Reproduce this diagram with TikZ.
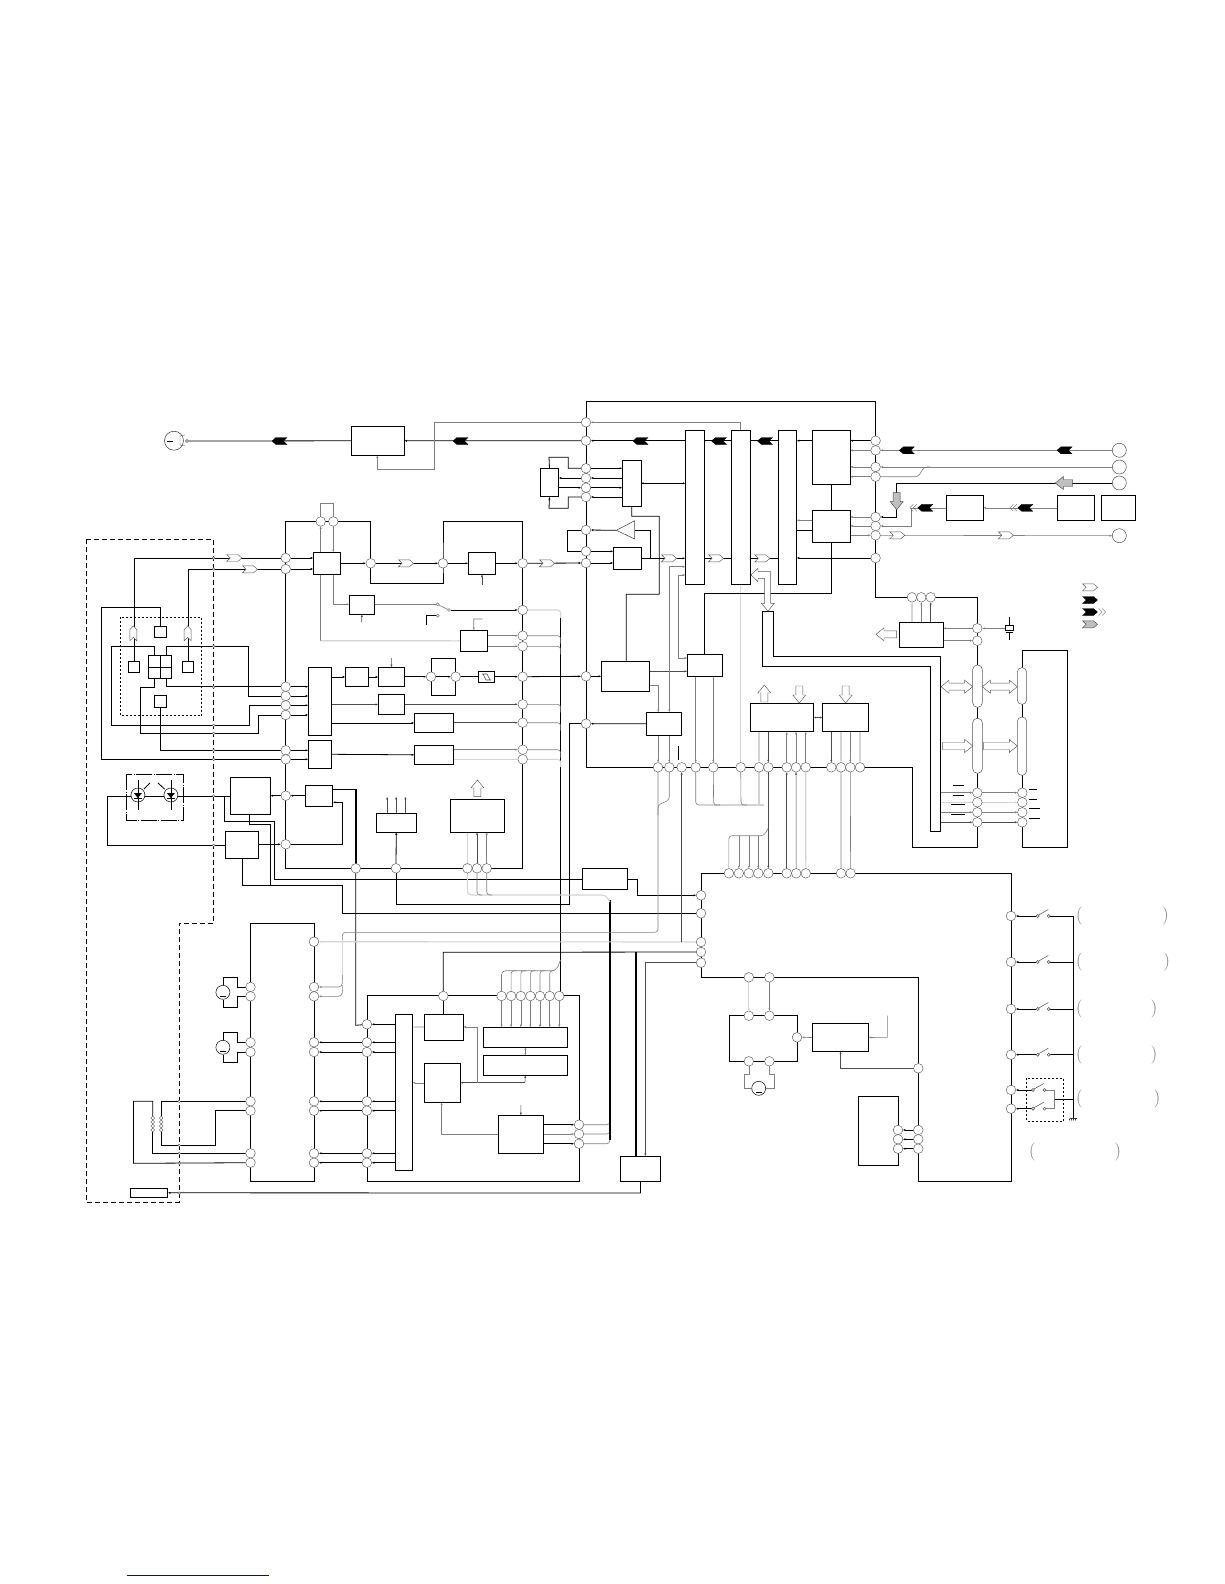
\documentclass[tikz,border=0pt]{standalone}
\usetikzlibrary{arrows.meta}
\pgfdeclarelayer{bg}\pgfsetlayers{bg,main}
\definecolor{gr}{gray}{0.5}\definecolor{lg}{gray}{0.83}\definecolor{lnk}{rgb}{0.05,0.05,0.5}
\tikzset{
 box/.style={draw=black,fill=white,line width=.8pt,inner sep=0pt,outer sep=0pt},
 pad/.style={circle,draw=black!65,fill=white,line width=.45pt,minimum size=9.6pt,inner sep=0pt,outer sep=0pt},
 big/.style={circle,draw=black!70,fill=white,line width=.5pt,minimum size=14pt,inner sep=0pt,outer sep=0pt},
 w/.style={draw=black,line width=.8pt},
 tw/.style={draw=black!70,line width=.55pt},
 g/.style={draw=gr,line width=.6pt},
 l/.style={draw=lg,line width=1.1pt},
 th/.style={draw=black,line width=1.6pt},
 ar/.style={-{Latex[length=2.6pt,width=2.2pt]}},
 ra/.style={{Latex[length=2.6pt,width=2.2pt]}-},
 dar/.style={{Latex[length=2.2pt,width=2pt]}-{Latex[length=2.2pt,width=2pt]}},
 ol/.style={draw=black!65,fill=white,line width=.45pt},
 bk/.style={draw=black,fill=black,line width=.3pt},
 ht/.style={draw=black!70,fill=black!25,line width=.45pt},
 par/.style={text=black!55,font=\fontsize{18}{18}\selectfont,inner sep=0pt},
}
\newcommand\pad[3]{\node[pad] (#1) at (#2,#3) {};}
\newcommand\bx[6][]{\pgfmathsetmacro\bw{#5-#3}\pgfmathsetmacro\bh{#6-#4}\node[box,minimum width=\bw pt,minimum height=\bh pt,#1] (#2) at ({(#3+#5)/2},{(#4+#6)/2}) {};}
\newcommand\chv[4][ol]{\draw[#1,shift={(#2,#3)},rotate=#4] (-7.5,-3.5)--(3.5,-3.5)--(7.5,0)--(3.5,3.5)--(-7.5,3.5)--(-4,0)--cycle;}
\newcommand\chvd[3]{\chv[bk]{#1}{#2}{#3}\begin{scope}[shift={(#1,#2)},rotate=#3]\draw[draw=black!60,line width=.35pt] (8.5,-3.5)--(12,0)--(8.5,3.5) (12,-3.5)--(15.5,0)--(12,3.5);\end{scope}}
\newcommand\blk[5][ol]{\draw[#1,shift={(#2,#3)},rotate=#5] (0,-3.5)--(#4-8,-3.5)--(#4-8,-6.5)--(#4,0)--(#4-8,6.5)--(#4-8,3.5)--(0,3.5)--cycle;}
\newcommand\dbl[3]{\draw[ol] (#1,#3)--(#1+8,#3-6.5)--(#1+8,#3-3.5)--(#2-8,#3-3.5)--(#2-8,#3-6.5)--(#2,#3)--(#2-8,#3+6.5)--(#2-8,#3+3.5)--(#1+8,#3+3.5)--(#1+8,#3+6.5)--cycle;}
\newcommand\swt[3]{\draw[black!70,line width=.5pt,fill=white] (#1,#3) circle (1.5pt) (#2,#3) circle (1.5pt);\draw[black!70,line width=.5pt] (#1+1,#3-1)--(#2-.5,#3-6.5);}
\newcommand\led[2]{\draw[line width=.5pt,fill=white] (#1,#2) circle (7pt);\draw[line width=.7pt] (#1,#2-15)--(#1,#2+15);\fill (#1-4,#2-2)--(#1+4,#2-2)--(#1,#2+3)--cycle;\draw[line width=.8pt] (#1-4,#2+3)--(#1+4,#2+3);}
\newcommand\mot[3]{\node[circle,draw=black,fill=white,line width=.5pt,minimum size=14pt,inner sep=0pt] (#1) at (#2,#3) {};\draw[line width=.9pt] (#2-2.8,#3+4)--(#2+2.8,#3+4);}
\begin{document}
\begin{tikzpicture}[x=1pt,y=-1pt]
\useasboundingbox (0,0) rectangle (1224,1584);
% ---------- boxes
\bx{BA}{351.3}{426.3}{404.3}{455.3}\bx{BB}{313.3}{552.3}{340.3}{574.3}\bx{BC}{468.3}{552.3}{495.7}{574.3}
\bx{BD}{349.3}{595.3}{374.3}{614.3}\bx{BE}{460.3}{630.3}{487.3}{651.3}\bx{BF}{308.3}{667.3}{331.3}{735.3}
\bx{BG}{308.3}{740.3}{331.3}{768.3}\bx{BH}{345.3}{667.3}{368.7}{686.7}\bx{BI}{378.3}{667.3}{404.7}{686.7}
\bx{BJ}{378.3}{694.3}{404.7}{714.7}\bx{BK}{414.3}{713.3}{453.7}{732.7}\bx{BL}{414.3}{745.3}{453.7}{764.3}
\bx{BM}{478.3}{671.3}{494.7}{682.3}\bx{BN}{230.5}{777.3}{270.4}{814.3}\bx{BO}{305.2}{785.3}{332.8}{806.3}
\bx{BP}{225.3}{831.3}{258.4}{858.3}\bx{BQ}{376.1}{813.3}{416.4}{832.3}\bx{BR}{450.2}{799.3}{504.3}{832.3}
\bx{BS}{582.3}{868.3}{627.5}{889.3}\bx{BT}{395.4}{1014.3}{412.6}{1170.3}\bx{BU}{424.4}{1014.3}{463.3}{1040.3}
\bx{BV}{424.4}{1063.3}{460.5}{1102.3}\bx{BW}{483.2}{1027.3}{567.6}{1047.3}\bx{BX}{483.2}{1055.3}{567.6}{1075.3}
\bx{BY}{498.4}{1115.3}{543.2}{1153.3}\bx{BZ}{620.6}{1156.3}{660.8}{1181.3}\bx{CA}{130.3}{1188.3}{167.8}{1197.3}
\bx{CB}{540.3}{468.3}{558.7}{496.7}\bx{CC}{622.3}{460.3}{641.3}{506.3}\bx{CD}{613.3}{547.3}{641.3}{569.3}
\bx{CE}{601.3}{661.3}{649.3}{691.3}\bx{CF}{687.3}{654.3}{722.3}{676.3}\bx{CG}{646.3}{712.3}{681.3}{735.3}
\bx{CH}{685.3}{430.3}{704.3}{584.3}\bx{CI}{731.3}{430.3}{750.3}{584.3}\bx{CJ}{778.3}{430.3}{796.7}{584.3}
\bx{CK}{812.3}{430.3}{850.3}{484.3}\bx{CL}{812.3}{510.3}{850.3}{542.3}\bx{CM}{750.3}{703.3}{813.7}{731.7}
\bx{CN}{822.3}{703.3}{868.7}{731.7}\bx{CO}{899.3}{622.3}{943.3}{647.3}\bx{DA}{946.3}{495.3}{983.3}{520.3}
\bx{DB}{1057.3}{495.3}{1094.3}{520.3}\bx{DC}{1101.3}{495.3}{1135.7}{520.3}\bx{DD}{812.3}{1023.7}{868.6}{1051.3}
\bx{DE}{858.6}{1096.3}{898.4}{1165.3}
\bx{ot}{154.3}{626.3}{166.7}{637.7}\bx{ol}{128.3}{661.3}{139.7}{672.7}\bx{or}{182.3}{661.3}{193.7}{672.7}
\bx{ob}{154.3}{695.3}{166.7}{707.7}\bx{oq}{148.3}{655.3}{171.7}{678.7}
\draw[w] (oq.north)--(oq.south) (oq.west)--(oq.east);
\draw[line width=.6pt,black!70] (483,674)--(486,680) (487,674)--(490,680) (482,674)--(487,674) (486,680)--(491,680);
\bx[draw=black!65,line width=.5pt,rounded corners=4.5pt]{ca}{972.7}{665}{982.3}{707.3}
\bx[draw=black!65,line width=.5pt,rounded corners=4.5pt]{cb}{972.7}{718.3}{982.3}{773.3}
\bx[draw=black!65,line width=.5pt,rounded corners=4.5pt]{cc}{1017.3}{667.7}{1026.7}{704.3}
\bx[draw=black!65,line width=.5pt,rounded corners=4.5pt]{cd}{1017.3}{717}{1026.7}{775.3}
% ---------- pads
\foreach \n/\y in {1/558,2/569,3/686.7,4/696,5/705.3,6/715,7/750.3,8/759.3,9/795.7,10/844.3}{\pad{a\n}{285.7}{\y}}
\foreach \n/\y in {1/563.3,2/610,3/635.7,4/646.3,5/676.7,6/704.3,7/722.7,8/749.7,9/759.3}{\pad{b\n}{522.7}{\y}}
\foreach \n/\y in {1/422.3,2/440.7,3/468.3,4/478,5/487.7,6/497,7/530,8/551.3,9/563,10/676.3,11/723.7}{\pad{c\n}{586}{\y}}
\foreach \n/\y in {1/440.7,2/450.3,3/467,4/476.7,5/517,6/526,7/535.3,8/558}{\pad{d\n}{875.6}{\y}}
\foreach \n/\x in {1/658,2/669.3,3/681.7,4/695.7,5/713.3,6/740.7,7/759,8/768.3,9/786.7,10/796,11/805.7,12/831.3,13/841,14/850.3,15/860}{\pad{e\n}{\x}{767.3}}
\foreach \n/\x in {1/728.9,2/738.8,3/748.8,4/758.3,5/768.3,6/786.7,7/796.2,8/805.8,9/841,10/850.6}{\pad{f\n}{\x}{873.3}}
\foreach \n/\y in {1/895.3,2/913.3,3/942,4/952,5/962.7}{\pad{gg\n}{701}{\y}}
\foreach \n/\x in {1/355.8,2/396,3/467.4,4/477,5/486.7}{\pad{h\n}{\x}{868.3}}
\foreach \n/\x in {0/443.3,1/501.5,2/511.1,3/520.8,4/530.4,5/540,6/549.7,7/559.3}{\pad{j\n}{\x}{996}}
\foreach \n/\y in {1/1024.3,2/1042.3,3/1052,4/1101.3,5/1110.7,6/1153.3,7/1162.7}{\pad{k\n}{366.9}{\y}}
\foreach \n/\y in {0/941.7,1/987,2/996.3,3/1042.3,4/1052,5/1101.3,6/1110.7,7/1153.3,8/1162.7}{\pad{m\n}{314}{\y}}
\foreach \n/\y in {1/987,2/996.3,3/1042.3,4/1052,5/1101.3,6/1110.7,7/1153.3,8/1162.7}{\pad{q\n}{250.5}{\y}}
\foreach \n/\y in {1/1124.7,2/1134,3/1143.7}{\pad{n\n}{579}{\y}}
\foreach \n/\y in {1/916,2/962,3/1009,4/1054.7,5/1090,6/1108.7}{\pad{r\n}{1011}{\y}}
\foreach \n/\y in {1/628.3,2/640.7,3/792.7,4/802.3,5/812.3,6/822.3}{\pad{s\n}{977.3}{\y}}
\foreach \n/\y in {3/792.7,4/802.3,5/812.3,6/822.3}{\pad{t\n}{1022.3}{\y}}
\foreach \n/\x in {1/912,2/921.3,3/930.7}{\pad{u\n}{\x}{597.3}}
\pad{v1}{320.7}{521.5}\pad{v2}{333.3}{521.5}\pad{w1}{370.7}{563.3}\pad{w2}{443}{563.3}\pad{x1}{431}{676.7}\pad{x2}{455.7}{676.7}
\pad{y1}{748.8}{977.3}\pad{y2}{769.4}{977.3}\pad{y3}{748.8}{1015.7}\pad{y4}{769.4}{1015.7}\pad{y5}{748.8}{1061.3}\pad{y6}{769.4}{1061.3}\pad{y7}{797}{1037.3}
\pad{z0}{918.3}{1068.3}
\foreach \n/\y in {1/1130,2/1139.3,3/1148.7}{\pad{p\n}{898}{\y}\pad{o\n}{918.3}{\y}}
\node[big] (B1) at (1119.3,450.3) {};\node[big] (B2) at (1119.3,467) {};\node[big] (B3) at (1119.3,483) {};\node[big] (B4) at (1119.3,535.7) {};
\node[circle,draw=black!70,fill=white,line width=.4pt,minimum size=3pt,inner sep=0pt] (eyep) at (187,441) {};
\mot{M1}{222.9}{992.3}\mot{M2}{222.9}{1047.3}\mot{M3}{758.7}{1088.3}
% ---------- connectors (behind)
\begin{pgfonlayer}{bg}
\fill[white] (0,0) rectangle (1224,1584);
% rails
\draw[w] (a10.center)--(285.7,521.5)--(370.7,521.5)--(w1.center)--(370.7,583.3)--(443,583.3)--(w2.center)--(443,521.5)--(522.7,521.5)--(b9.center)--(522.7,868.3)--(a10 |- h1)--(a10.center);
\draw[w] (c11.center)--(586,401.3)--(875.6,401.3)--(875.6,597.3)--(977.3,597.3)--(977.3,847.3)--(912.2,847.3)--(912.2,767.3)--(586,767.3)--(c11.center);
\draw[w] (1022.3,650.3)--(1067.3,650.3)--(1067.3,847.3)--(1022.3,847.3)--cycle;
\draw[w] (701.3,977.3)--(701.3,873.3)--(1011.3,873.3)--(1011.3,1181)--(918.3,1181)--(918.3,977.3)--cycle;
\draw[w] (367.2,995.5)--(579.3,995.5)--(579.3,1181.3)--(367.2,1181.3)--cycle;
\draw[w] (250.5,923.3)--(314.2,923.3)--(314.2,1181.3)--(250.5,1181.3)--cycle;
\draw[w] (729.3,1015.7) rectangle (797.4,1061.3);
% top line
\draw[w] (eyep)--(BA.west);\draw[w,ra] (BA.east)--(c2);\draw[w,ra] (c2)--(CH.west |- c2);
\draw[w] (CH.east |- c2)--(CI.west |- c2) (CI.east |- c2)--(CJ.west |- c2);\draw[w,ra] (CJ.east |- c2)--(CK.west |- c2);\draw[w,ra] (CK.east |- c2)--(d1);
\draw[g] (c1)--(434.3,422.3)--(434.3,469.3)--(377.3,469.3);\draw[g,ar] (377.3,469.3)--(377.3,0 |- BA.south);
\draw[g,ar] (740.7,422.3)--(c1);\draw[g] (740.7,422.3)--(740.7,584);\draw[l] (740.7,584)--(e6);
% optics
\draw[w] (ol.north) |- (a1.center);\draw[w] (or.north) |- (a2.center);
\draw[w] (ot.north)--(160.5,607.3)--(101.3,607.3)--(101.3,759.3)--(a8.center);
\draw[w] (ob.south) |- (a7.center);
\draw[w] (154.3,655.3)--(154.3,646.3)--(111.3,646.3)--(111.3,725.3)--(249.3,725.3)--(249.3,705.3)--(a5.center);
\draw[w] (166.3,655.3)--(166.3,646.3)--(248.3,646.3)--(248.3,696)--(a4.center);
\draw[w] (154.3,678.7)--(154.3,687.3)--(140.3,687.3)--(140.3,733.3)--(258.3,733.3)--(258.3,715)--(a6.center);
\draw[w] (166.3,678.7)--(166.3,686.7)--(a3.center);
\foreach \p in {a3,a4,a5,a6}{\draw[w,ar] (\p)--(\p -| BF.west);}
\foreach \p in {a7,a8}{\draw[w,ar] (\p)--(\p -| BG.west);}
\foreach \p in {a1,a2}{\draw[w,ar] (\p)--(\p -| BB.west);}
% upper signal line
\draw[w,ar] (BB.east)--(w1);\draw[w,ar] (w1)--(w2);\draw[w,ar] (w2)--(BC.west);\draw[w,ar] (BC.east)--(b1);\draw[w,ar] (b1)--(c9);\draw[w,ar] (c9)--(c9 -| CD.west);
\draw[g] (v1.center)--(320.7,503.3)--(333.3,503.3)--(v2.center);
\draw[g,ar] (320.7,0 |- BB.north)--(v1);\draw[g,ar] (v2)--(333.3,0 |- BB.north);
\draw[g,ar] (333.3,0 |- BB.south)--(333.3,604.3)--(349.3,604.3);
\draw[g] (320.7,0 |- BB.south)--(320.7,640.7);\draw[l,ar] (320.7,640.7)--(BE.west);
\draw[g] (374.3,604.3)--(436.2,604.3);
\draw[w,ar] (450.5,610)--(b2);
\draw[tw,ar] (361.7,622.3)--(BD.south);
\draw[w] (426.7,624.7)--(426.7,615.7)--(436.2,615.7);
\draw[g,ar] (482.7,619)--(473.7,619)--(BE.north);
\draw[tw,ar] (482,584.7)--(BC.south);
\draw[g,ar] (BE.east |- b3)--(b3);\draw[g,ar] (BE.east |- b4)--(b4);
% mid lines
\draw[w,ar] (BF.east |- BH)--(BH.west);\draw[w,ar] (BH.east)--(BI.west);\draw[tw,ar] (391.3,658)--(BI.north);
\draw[w,ar] (BI.east |- x1)--(x1);\draw[w] (x1.center)--(431,658.3)--(455.7,658.3)--(x2.center)--(455.7,695.3)--(431,695.3)--(x1.center);
\draw[w,ar] (x1)--(x2);\draw[w] (x2)--(BM.west |- x2);\draw[w,ar] (BM.east |- b5)--(b5);\draw[w,ar] (b5)--(c10);\draw[w,ar] (c10)--(c10 -| CE.west);
\draw[tw,ar] (BF.east |- BJ)--(BJ.west);\draw[tw,ar] (BJ.east |- b6)--(b6);
\draw[w,ar] (BF.east |- BK)--(BK.west);\draw[tw,ar] (BK.east |- b7)--(b7);
\draw[w,ar] (BG.east)--(BL.west);\draw[g,ar] (BL.east |- b8)--(b8);\draw[l,ar] (BL.east |- b9)--(b9);
% bundle right of B
\draw[w] (560.6,616)--(560.6,996);\draw[w] (560.6,996)--(j7);
\draw[l,rounded corners=3pt] (b2)--(560.6,610)--(560.6,618);
\foreach \p in {b3,b4,b6,b7,b8}{\draw[g,rounded corners=3pt] (\p)--(\p -| 560.6,0)--++(0,-8 * -1);}
\draw[l,rounded corners=3pt] (b9)--(560.6,759.3)--(560.6,767);
\draw[g,rounded corners=4pt] (560.6,960)--(556,970.7)--(501.5,970.7)--(j1);
\foreach \p in {j2,j3,j4,j5,j6}{\draw[g,rounded corners=3pt] (\p)--(\p |- 0,970.7)--++(5,0);}
\foreach \p in {j1,j2,j3,j4,j5,j6,j7}{\draw[g,ar] (\p)--(\p |- BW.north);}
\draw[g,dar] (BW.south)--(BX.north);
\draw[tw,ar] (524.9,1082.7)--(BX.south);
\draw[tw,ar] (477.7,1082.7)--(BV.east |- 0,1082.7);
\draw[tw] (524.9,1082.7)--(477.7,1082.7);
\draw[g] (477.7,1082.7)--(477.7,1027);\draw[g,ar] (477.7,1027)--(BU.east |- 0,1027);
\draw[l,ar] (BU.west |- 0,1027)--(BT.east |- 0,1027);
\draw[g,ar] (BV.west)--(BT.east |- BV);
\draw[w] (j0)--(BU.north -| j0);
\draw[w] (j0.center)--(443.3,952.3)--(gg4.center);
\draw[g,ar] (BY.west)--(441.6,1134.3)--(441.6,0 |- BV.south);
\draw[tw,ar] (520.8,1105)--(BY.north);
\draw[w,ar] (BY.east |- n1)--(n1);\draw[g,ar] (BY.east |- n2)--(n2);\draw[w,ar] (BY.east |- n3)--(n3);
\foreach \p in {n1,n2,n3}{\draw[g,rounded corners=3pt] (\p)--(\p -| 609.8,0)--++(0,-8);}
\draw[th] (609.8,900)--(609.8,1140);
\draw[th] (635.9,952.3)--(635.9,0 |- BZ.north);
\draw[tw,ar] (gg5)--(645.4,962.7)--(645.4,0 |- BZ.north);
\draw[w,ar] (640.5,1193)--(CA.east);
\draw[w] (640.5,0 |- BZ.south)--(640.5,1193);
% LED etc
\draw[w] (107.2,796)--(230.5,796);
\draw[w] (107.2,796)--(107.2,845.3)--(225.3,845.3);
\draw[w] (224.6,796)--(224.6,821.3)--(274.6,821.3)--(274.6,879.3)--(582.3,879.3);
\draw[w] (249.8,814.3)--(249.8,824.3)--(270.4,824.3)--(270.4,885.3);
\draw[w] (242,858.3)--(242,885.3)--(342.4,885.3)--(342.4,913.3)--(gg2);
\draw[w,ra] (BN.east |- a9)--(a9);\draw[w,ra] (a9)--(BO.west |- a9);
\draw[w,ar] (BP.east |- a10)--(a10);\draw[w,ar] (a10)--(342.4,844.3)--(342.4,802.3)--(332.8,802.3);
\draw[th] (332.8,789.3)--(355.8,789.3)--(h1);
\draw[w] (h1)--(355.8,1025.3)--(k1);
\draw[w,ar] (h2)--(BQ.south);\draw[w] (h2.center)--(396,904.3)--(569.3,904.3)--(569.3,723.7)--(c11);
\draw[w,ar] (CG.west)--(c11);
\foreach \x in {387.2,396.1,405.4}{\draw[tw,ar] (\x,0 |- BQ.north)--(\x,796.7);}
\draw[l,ar] (h3)--(BR.south -| h3);\draw[tw,ar] (h4)--(BR.south -| h4);\draw[g,ar] (h5)--(BR.south -| h5);
\draw[l,rounded corners=4pt] (h3)--(467.4,895)--(606,895)--(609.8,902);
\draw[g,rounded corners=3pt] (h4)--(477,895)--(482,895);
\draw[g,rounded corners=3pt] (h5)--(486.7,895)--(492,895);
\draw[w,ar] (BS.east |- 0,879.3)--(637.8,879.3)--(637.8,895.3)--(gg1);
% motor driver
\draw[l,ar] (gg3)--(m0);
\draw[g,rounded corners=3pt] (e1)--(658,932.3)--(342.4,932.3)--(342.4,945);
\draw[l] (342.4,940)--(342.4,980);
\draw[g,rounded corners=4pt,ar] (342.4,975)--(342.4,987)--(m1);
\draw[g,rounded corners=4pt,ar] (342.4,985)--(342.4,996.3)--(m2);
\draw[g,rounded corners=3pt] (e2)--(669.2,800)--(658,805)--(658,815);
\draw[w,ar] (BT.west |- k1)--(k1);
\foreach \k/\m in {2/3,3/4,4/5,5/6,6/7,7/8}{\draw[w,ar] (BT.west |- k\k)--(k\k);\draw[w,ar] (k\k)--(m\m);}
\draw[w] (q3)--(237.7,1042.3)--(237.7,1032.3)--(222.9,1032.3)--(M2);
\draw[w] (q4)--(237.7,1052)--(237.7,1062.3)--(222.9,1062.3)--(M2);
\draw[w] (q1)--(237.7,987)--(237.7,977.3)--(222.9,977.3)--(M1);
\draw[w] (q2)--(237.7,996.3)--(237.7,1007.3)--(222.9,1007.3)--(M1);
\draw[w] (q5)--(161.3,1101.3)--(161.3,1116);\draw[w] (161.3,1130)--(161.3,1145.3)--(215.3,1145.3)--(215.3,1110.7)--(q6);
\draw[w] (q7)--(152.7,1153.3)--(152.7,1131);\draw[w] (152.7,1116.7)--(152.7,1101.3)--(133.4,1101.3)--(133.4,1163.3)--(q8);
% centre
\draw[w,ar] (c3)--(c3 -| CC.west);\draw[w,ra] (c4)--(c4 -| CC.west);\draw[w,ar] (c5)--(c5 -| CC.west);\draw[w,ra] (c6)--(c6 -| CC.west);
\draw[w,ar] (c4)--(c4 -| CB.east);\draw[w,ra] (c5)--(c5 -| CB.east);
\draw[w] (c3)--(568.3,468.3)--(568.3,457.3)--(549,457.3)--(CB.north);
\draw[w,ar] (c6)--(568.3,497)--(568.3,508.3)--(549,508.3)--(CB.south);
\draw[w,dar] (CC.east)--(CH.west |- CC);
\draw[w] (CC.south)--(631.7,516.3)--(659.3,516.3)--(659.3,594.3)--(626.3,594.3)--(626.3,661.3);
\draw[w] (c7)--(567.3,530)--(567.3,551.3)--(c8);
\draw[w,ar] (c8)--(c8 -| CD.west);
\draw[w,ra] (c7)--(616.3,530.3);
\draw[w] (634.7,530.3)--(650,530.3);\draw[draw=black,line width=1pt] (650,530.3)--(650,558.3);
\draw[w,ar] (641.3,558.3)--(685.3,558.3);
\draw[w] (CH.east |- d8)--(CI.west |- d8) (CI.east |- d8)--(CJ.west |- d8);\draw[w,ra] (CJ.east |- d8)--(d8);
\draw[g,ar] (812.3,520.3)--(796.7,520.3);
\draw[w] (796.7,530.3)--(812.3,530.3);
\draw[w] (831.7,484.3)--(831.7,510.3);
\draw[w] (831.7,542.3)--(831.7,593.3)--(704.3,593.3)--(704.3,654.3);
\draw[tw,ar] (CE.east |- 0,671.3)--(CF.west |- 0,671.3);
\draw[g] (649.3,685.3)--(658.3,685.3);\draw[g,ar] (658.3,685.3)--(658.3,712.3);
\draw[g,ar] (669.3,566.7)--(669.3,712.3);\draw[g,ar] (669.3,566.7)--(685.3,566.7);
\draw[g,ar] (678.3,658)--(687.3,658);\draw[g] (678.3,658)--(678.3,575);\draw[g,ar] (678.3,575)--(685.3,575);
\foreach \p in {e1,e2}{\draw[g,ar] (CG.south -| \p)--(\p);}
\foreach \p in {e4,e5}{\draw[g,ar] (CF.south -| \p)--(\p);}
\draw[l,ar] (CM.south -| e7)--(e7);\draw[tw,ar] (CM.south -| e8)--(e8);
\foreach \p in {e9,e10,e11}{\draw[g,ar] (\p)--(CM.south -| \p);}
\draw[tw,ar] (CN.south -| e12)--(e12);\draw[l,ar] (CN.south -| e13)--(e13);\draw[g,ar] (CN.south -| e14)--(e14);\draw[l,ar] (CN.south -| e15)--(e15);
\draw[tw,dar] (CM.east)--(CN.west);
\draw[tw,ar] (e3 |- gg3)--(e3);
\draw[g,rounded corners=3pt] (e4)--(695.7,805)--(702,805);
\draw[l] (700,805)--(764,805);
\draw[g,rounded corners=3pt] (e5)--(713.6,805)--(720,805);
\draw[g,rounded corners=3pt] (e6)--(741,805)--(747,805);
\draw[l] (e7)--(759,805);
\draw[tw,ar] (e8)--(f5);
\draw[g,rounded corners=3pt] (768.3,828)--(764,835.7)--(728.9,835.7)--(f1);
\foreach \p in {f2,f3,f4}{\draw[g,rounded corners=3pt,ar] (\p |- 0,835.7)--(\p);}
\foreach \a/\b in {e9/f6,e10/f7}{\draw[tw,ar] (\b)--(\a);}
\draw[l,ra] (e11)--(f8);
\draw[l] (e13)--(f9);\draw[g] (e14)--(f10);
\draw[w] (678.3,746)--(678.3,760);
% right
\draw[g,ar] (B1)--(d2);\draw[g,ar] (d2)--(CK.east |- d2);
\draw[g,ra] (CK.east |- d3)--(d3);\draw[g,ra] (CK.east |- d4)--(d4);
\draw[g,ar] (B2)--(d3);
\draw[g,rounded corners=3pt] (d4)--(918.3,476.7)--(924,467)--(930,467);
\draw[w,ar] (B3)--(896.7,483)--(896.7,517)--(d5);
\foreach \p in {d5,d6}{\draw[g,ar] (\p)--(\p -| CL.east);}
\draw[g,ra] (d7)--(d7 -| CL.east);
\draw[g,ar] (DB.west)--(DA.east);
\draw[g,ar] (DA.west)--(911.7,507.8)--(911.7,526)--(d6);
\draw[g,ar] (d7)--(B4);
\draw[g,ar] (s1)--(s1 -| CO.east);\draw[g,ar] (CO.east |- s2)--(s2);
\draw[l,ar] (CO.north -| u1)--(u1);\draw[g,ar] (CO.north -| u2)--(u2);\draw[tw,ar] (CO.north -| u3)--(u3);
\draw[g,ar] (1004.5,628.3)--(s1);
\foreach \n in {3,5}{\draw[g,ar] (940.7,0 |- s\n)--(s\n);\draw[g,ar] (s\n)--(t\n);}
\draw[l,ar] (940.7,0 |- s4)--(s4);\draw[l,ar] (s4)--(t4);
\draw[tw,ar] (940.7,0 |- s6)--(s6);\draw[tw,ar] (s6)--(t6);
\draw[w] (773.7,611)--(773.7,656.7)--(940.7,656.7)--(940.7,831.3)--(930.7,831.3)--(930.7,666.7)--(762.3,666.7)--(762.3,611)--cycle;
% lower right
\draw[l,ar] (y1)--(y3);\draw[g,ar] (y2)--(y4);
\draw[g] (y5)--(748.8,1074)--(743.8,1074)--(743.8,1088.3)--(M3);
\draw[g] (y6)--(769.4,1074)--(774,1074)--(774,1088.3)--(M3);
\draw[g,ar] (DD.west)--(y7);
\draw[g,ar] (887.3,1015.7)--(887.3,1037.3)--(DD.east);
\draw[tw,ar] (z0)--(840.6,1068.3)--(840.6,0 |- DD.south);
\foreach \n in {1,2,3}{\draw[w,ar] (o\n)--(p\n);}
\draw[w] (1073.3,916)--(1073.3,1118.3);
\foreach \n in {1,2,3,4}{\draw[w] (1073.3,0 |- r\n)--(1050.3,0 |- r\n);\draw[w,ar] (1036.2,0 |- r\n)--(r\n);}
\foreach \n in {5,6}{\draw[w,ar] (1031.5,0 |- r\n)--(r\n);}
\draw[g] (1046,1090)--(1054.5,1090)--(1054.5,1108.7)--(1046,1108.7);
\draw[w] (1054.5,1099.3)--(1073.3,1099.3);
\end{pgfonlayer}
% ---------- frames, symbols
\draw[dash pattern=on 5pt off 3pt,line width=.75pt] (86.3,539.3)--(213.7,539.3)--(213.7,923.3)--(179.2,923.3)--(179.2,1202.3)--(86.3,1202.3)--cycle;
\draw[dash pattern=on 2pt off 2pt,line width=.75pt] (120.3,617.3) rectangle (201.7,715.7);
\draw[dash pattern=on 2pt off 2pt,line width=.75pt] (1026.6,1078.3) rectangle (1063.4,1121.3);
\draw[line width=.7pt,dash pattern=on 16pt off 1.5pt on 1pt off 1.5pt] (126.5,774.3) rectangle (183.3,820.3);
\led{137.9}{795}\led{170.9}{795}
\draw[line width=.8pt] (144,789)--(150,783) (164.5,789)--(158,783);
\foreach \y in {558,569,646.3,687,725.3,733.3,750.3,759.3,796,845.3}{\draw[black!70,fill=white,line width=.35pt] (213.7,\y) circle (1.3pt);}
\foreach \y in {1101.3,1145.3,1153.3,1163.3,1193}{\draw[black!70,fill=white,line width=.35pt] (179.2,\y) circle (1.3pt);}
% eye
\draw[line width=.5pt,black!80] (174,440.7) circle (9.5pt);\draw[line width=.8pt] (167,441)--(173,441);
\draw[line width=.4pt,black!60] (180,436)--(185,435) (180,436)--(180,445) (180,445)--(185,446);
% coils
\foreach \y in {1118,1122,1126,1130}{\draw[black!70,fill=white,line width=.4pt] (152.7,\y) circle (1.9pt) (161.3,\y) circle (1.9pt);}
% triangle
\draw[draw=black!70,fill=white,line width=.55pt] (616.3,530.3)--(634.7,520.7)--(634.7,539)--cycle;
% chevrons
\foreach \x in {279.5,460.5,640.5,719,765}{\chv[bk]{\x}{441}{180}}
\chv[bk]{906.8}{450.3}{180}\chv[bk]{1064.5}{450.3}{180}
\foreach \x/\y in {234.3/558,250/569.3,406/563.3,547/563.3,669/558.3,716/558.3,762.3/558.3,897.3/535.3,1005.8/535.3}{\chv{\x}{\y}{0}}
\chv{133.3}{633.3}{90}\chv{187.7}{633.3}{90}
\chvd{1025.3}{507.8}{180}\chvd{925.3}{507.8}{180}
\chv{1090}{587.3}{0}\chv[bk]{1090}{600}{0}\chvd{1090}{612}{0}\chv[ht]{1090}{624.3}{0}
% block arrows
\blk[ht]{1072.3}{483}{17}{180}\blk[ht]{896.7}{492.7}{17}{-90}
\blk{896.7}{634.3}{20.7}{180}\blk{942.3}{746}{30.4}{0}\blk{983.3}{746}{34}{0}
\blk{477.4}{796.7}{16.7}{90}\blk{764.3}{702}{17}{90}\blk{799.3}{686}{17}{-90}\blk{845.7}{686}{17}{-90}
\dbl{941}{972.7}{686.7}\dbl{982.3}{1017.3}{686.7}
\draw[ol] (751,575)--(758,568.3)--(758,571.7)--(770.7,571.7)--(770.7,603.3)--(774.3,603.3)--(768,611)--(761.3,603.3)--(764.7,603.3)--(764.7,578.3)--(758,578.3)--(758,581.7)--cycle;
% crystal
\draw[line width=.7pt] (1009.3,617)--(1009.3,625) (1009.3,632)--(1009.3,640) (1005.5,632.5)--(1013,632.5);
\draw[line width=.8pt,fill=white] (1005.5,625.5) rectangle (1013,630.5);
% switches
\foreach \n/\y in {1/916,2/962,3/1009,4/1054.7}{\swt{1037.7}{1048.8}{\y}}
\swt{1033}{1044.4}{1090}\swt{1033}{1044.4}{1108.7}
\draw[g,fill=white] (437.7,604.3) circle (1.5pt) (449,610) circle (1.5pt) (437.7,615.7) circle (1.5pt);
\draw[g] (438.8,605)--(447.7,609.4);
% ground
\draw[line width=.5pt] (1069.5,1118.3)--(1077,1118.3) (1070,1118.3)--(1069.3,1120.5) (1072,1118.3)--(1071.3,1120.5) (1074,1118.3)--(1073.3,1120.5) (1076,1118.3)--(1075.3,1120.5);
% short bars
\draw[line width=.8pt] (953.3,785.3)--(964,785.3) (953,795.3)--(964,795.3) (951,804.3)--(965,804.3) (951,814.3)--(965,814.3) (1029,789.3)--(1037,789.3) (1029,799.3)--(1037,799.3) (1029,808.3)--(1040,808.3) (1029,818.3)--(1040,818.3);
% parentheses
\foreach \x/\y in {1079.4/916,1079.4/962,1079.4/1009,1079.4/1054.7,1079.4/1099,1032.4/1152.3}{\node[par] at (\x,\y) {(};}
\foreach \x/\y in {1165.5/916,1166.7/962,1154/1009,1154/1054.7,1157/1099,1117.7/1152.3}{\node[par] at (\x,\y) {)};}
% link
\draw[lnk,line width=1pt] (126.7,1575)--(269,1575);
\end{tikzpicture}
\end{document}
